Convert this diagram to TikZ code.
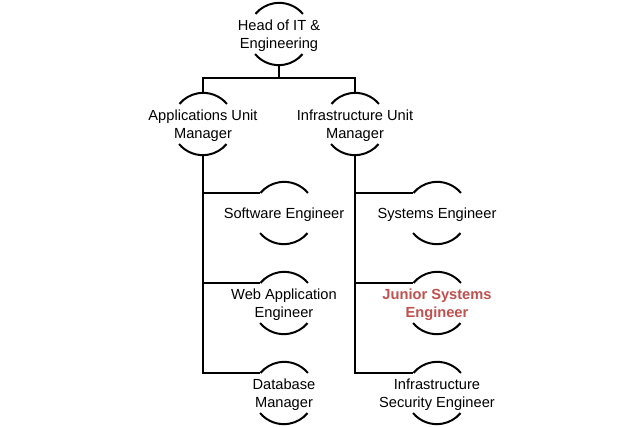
\documentclass[tikz,border=0pt]{standalone}
\usepackage{fontspec}
\setmainfont{Liberation Sans}
\usepackage{tikz}
\usetikzlibrary{positioning}
\definecolor{juniorred}{RGB}{192,80,77}

\begin{document}
\begin{tikzpicture}[x=0.03cm,y=0.03cm,
  unit/.style={circle,minimum size=1.86cm,inner sep=0pt},
  unittext/.style={align=center,yshift=-0.06cm,font=\fontsize{12.5}{15.4}\selectfont},
  link/.style={line width=1.7pt}]
\useasboundingbox (0,0) rectangle (640,-427);
% top and managers
\node [unit,label={[unittext]center:Head of IT \&\\Engineering}] (head) at (279,-34) {};
\node [unit,label={[unittext]center:Applications Unit\\Manager}] (app) at (203,-124) {};
\node [unit,label={[unittext]center:Infrastructure Unit\\Manager}] (infra) at (355,-124) {};
% applications unit
\node [unit,label={[unittext]center:Software Engineer}] (sw) at (284,-213) {};
\node [unit,label={[unittext]center:Web Application\\Engineer}] (web) at (284,-303) {};
\node [unit,label={[unittext]center:Database\\Manager}] (db) at (284,-393) {};
% infrastructure unit
\node [unit,label={[unittext]center:Systems Engineer}] (sys) at (437,-213) {};
\node [unit,label={[unittext,text=juniorred,font=\fontsize{12.5}{15.4}\selectfont\bfseries]center:Junior Systems\\Engineer}] (jun) at (437,-303) {};
\node [unit,label={[unittext]center:Infrastructure\\Security Engineer}] (sec) at (437,-393) {};
\foreach \n in {head,app,infra,sw,web,db,sys,jun,sec} {
  \draw [link] (\n.40) arc[start angle=40,end angle=140,radius=0.93cm];
  \draw [link] (\n.220) arc[start angle=220,end angle=320,radius=0.93cm];
}
\coordinate (split) at (279,-78);
\draw [link] (head.south) -- (split);
\draw [link] (app.north) |- (split) -| (infra.north);
\draw [link] (app.south) |- (db.140);
\foreach \c in {sw,web}
  \draw [link] (app.south |- \c.140) -- (\c.140);
\draw [link] (infra.south) |- (sec.140);
\foreach \c in {sys,jun}
  \draw [link] (infra.south |- \c.140) -- (\c.140);
\end{tikzpicture}
\end{document}
